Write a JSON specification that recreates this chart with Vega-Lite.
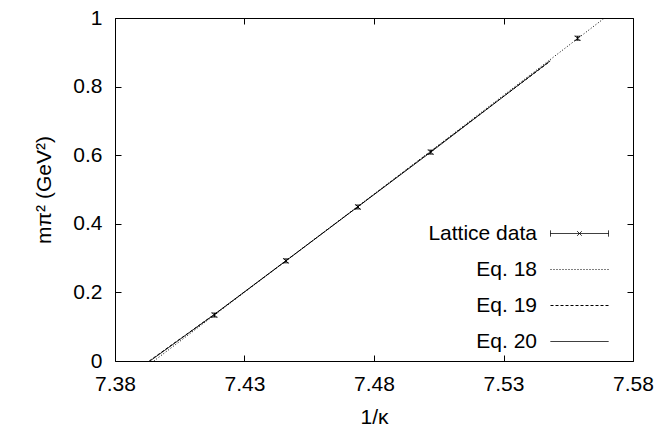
{
  "$schema": "https://vega.github.io/schema/vega-lite/v6.json",
  "width": 518,
  "height": 343,
  "autosize": "none",
  "padding": {"left": 115, "top": 18, "right": 22, "bottom": 68},
  "background": "white",
  "config": {
    "font": "Liberation Sans",
    "view": {"stroke": "black", "strokeWidth": 1},
    "axis": {
      "domain": false,
      "grid": false,
      "tickColor": "black",
      "tickSize": -6,
      "tickWidth": 1,
      "labelColor": "black",
      "labelFont": "Liberation Sans",
      "labelFontSize": 21,
      "labelFlush": false,
      "labelOverlap": false,
      "titleColor": "black",
      "titleFont": "Liberation Sans",
      "titleFontSize": 21,
      "titleFontWeight": "normal"
    }
  },
  "datasets": {
    "fits": [
      {"series": "Eq. 18", "inv_kappa": 7.3950, "mpi2": 0.0},
      {"series": "Eq. 18", "inv_kappa": 7.4184, "mpi2": 0.134},
      {"series": "Eq. 18", "inv_kappa": 7.5019, "mpi2": 0.612},
      {"series": "Eq. 18", "inv_kappa": 7.5690, "mpi2": 1.0},
      {"series": "Eq. 19", "inv_kappa": 7.3932, "mpi2": 0.0},
      {"series": "Eq. 19", "inv_kappa": 7.4184, "mpi2": 0.136},
      {"series": "Eq. 19", "inv_kappa": 7.4738, "mpi2": 0.450},
      {"series": "Eq. 19", "inv_kappa": 7.5480, "mpi2": 0.874},
      {"series": "Eq. 20", "inv_kappa": 7.3935, "mpi2": 0.0},
      {"series": "Eq. 20", "inv_kappa": 7.4184, "mpi2": 0.136},
      {"series": "Eq. 20", "inv_kappa": 7.4460, "mpi2": 0.292},
      {"series": "Eq. 20", "inv_kappa": 7.4738, "mpi2": 0.450},
      {"series": "Eq. 20", "inv_kappa": 7.5019, "mpi2": 0.609},
      {"series": "Eq. 20", "inv_kappa": 7.5480, "mpi2": 0.875}
    ],
    "lattice": [
      {"inv_kappa": 7.4184, "mpi2": 0.134, "lo": 0.128, "hi": 0.140},
      {"inv_kappa": 7.4460, "mpi2": 0.292, "lo": 0.286, "hi": 0.298},
      {"inv_kappa": 7.4738, "mpi2": 0.449, "lo": 0.443, "hi": 0.455},
      {"inv_kappa": 7.5019, "mpi2": 0.609, "lo": 0.603, "hi": 0.615},
      {"inv_kappa": 7.5586, "mpi2": 0.941, "lo": 0.935, "hi": 0.947}
    ]
  },
  "resolve": {"axis": {"x": "independent", "y": "independent"}},
  "layer": [
    {
      "data": {"name": "fits"},
      "mark": {"type": "line", "color": "black", "strokeWidth": 1, "clip": true},
      "encoding": {
        "x": {
          "field": "inv_kappa", "type": "quantitative",
          "scale": {"domain": [7.38, 7.58], "nice": false, "zero": false},
          "axis": {"orient": "bottom", "values": [7.38, 7.43, 7.48, 7.53, 7.58], "format": ".2f", "labelPadding": 18, "title": "1/κ", "titlePadding": 12}
        },
        "y": {
          "field": "mpi2", "type": "quantitative",
          "scale": {"domain": [0, 1], "nice": false},
          "axis": {"orient": "left", "values": [0, 0.2, 0.4, 0.6, 0.8, 1], "format": "~g", "labelPadding": 19, "title": "mπ² (GeV²)", "titlePadding": 18}
        },
        "detail": {"field": "series"},
        "strokeDash": {
          "field": "series", "type": "nominal",
          "scale": {
            "domain": ["Lattice data", "Eq. 18", "Eq. 19", "Eq. 20"],
            "range": [[1, 0], [1, 2], [3, 2], [1, 0]]
          },
          "legend": {
            "orient": "none",
            "legendX": 454,
            "legendY": 205,
            "title": null,
            "padding": 0,
            "symbolType": "M-2.9,0H2.9",
            "symbolSize": 400,
            "symbolStrokeWidth": 1,
            "symbolStrokeColor": "black",
            "symbolFillColor": "transparent",
            "labelAlign": "right",
            "labelOffset": -53,
            "labelFontSize": 21,
            "labelColor": "black",
            "labelFont": "Liberation Sans",
            "labelLimit": 300,
            "rowPadding": 14,
            "encode": {
              "symbols": {
                "update": {
                  "shape": {"signal": "datum.value === 'Lattice data' ? 'M-2.9,0H2.9M-2.9,-0.3V0.3M2.9,-0.3V0.3M-0.22,-0.22L0.22,0.22M-0.22,0.22L0.22,-0.22' : 'M-2.9,0H2.9'"}
                }
              }
            }
          }
        }
      }
    },
    {
      "data": {"name": "lattice"},
      "mark": {"type": "errorbar", "color": "black", "ticks": {"size": 6, "thickness": 1}, "thickness": 1},
      "encoding": {
        "x": {"field": "inv_kappa", "type": "quantitative", "axis": null},
        "y": {"field": "lo", "type": "quantitative", "axis": null},
        "y2": {"field": "hi"}
      }
    },
    {
      "data": {"name": "lattice"},
      "mark": {"type": "point", "shape": "M-1,-1L1,1M-1,1L1,-1", "size": 25, "filled": false, "stroke": "black", "strokeWidth": 1, "opacity": 1},
      "encoding": {
        "x": {
          "field": "inv_kappa", "type": "quantitative",
          "axis": {"orient": "top", "values": [7.38, 7.43, 7.48, 7.53, 7.58], "labels": false, "title": null}
        },
        "y": {
          "field": "mpi2", "type": "quantitative",
          "axis": {"orient": "right", "values": [0, 0.2, 0.4, 0.6, 0.8, 1], "labels": false, "title": null}
        }
      }
    }
  ]
}
